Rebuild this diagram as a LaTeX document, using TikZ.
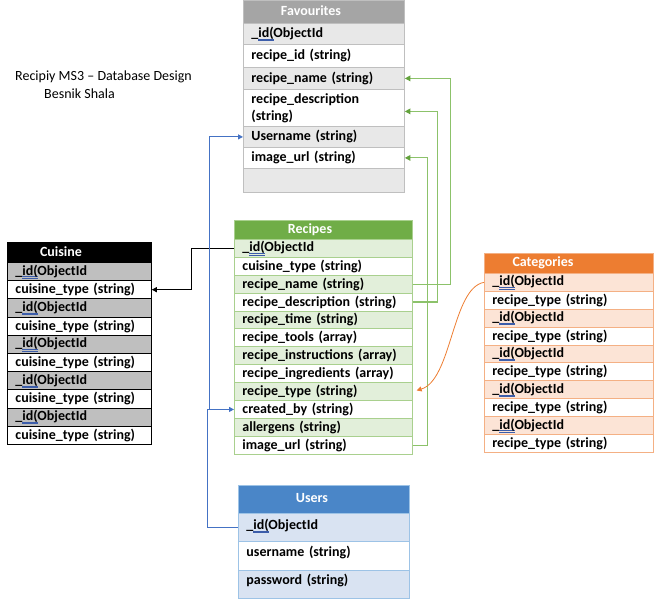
\documentclass[tikz,border=0pt]{standalone}
\usepackage{fontspec}
\setmainfont{Carlito}
\usetikzlibrary{arrows.meta}

\definecolor{favhead}{HTML}{A5A5A5}
\definecolor{favrow}{HTML}{E8E8E8}
\definecolor{favline}{HTML}{BFBFBF}
\definecolor{cuirow}{HTML}{BFBFBF}
\definecolor{rechead}{HTML}{70AD47}
\definecolor{recrow}{HTML}{E2EFDA}
\definecolor{recline}{HTML}{A9D08E}
\definecolor{cathead}{HTML}{ED7D31}
\definecolor{catrow}{HTML}{FCE4D6}
\definecolor{catline}{HTML}{F4B084}
\definecolor{usrhead}{HTML}{4A86C8}
\definecolor{usrrow}{HTML}{D9E3F2}
\definecolor{usrline}{HTML}{9DC3E6}
\definecolor{uline}{HTML}{3C5DAA}
\definecolor{linkgreen}{HTML}{8CC26A}
\definecolor{tipgreen}{HTML}{63A23C}
\definecolor{linkblue}{HTML}{4472C4}
\definecolor{linkorange}{HTML}{ED7D31}

% "_id(ObjectId" with the double underline under "id("
\newlength\oidw
\newcommand\oid{\_\settowidth{\oidw}{id(}%
  \rlap{\textcolor{uline}{\rule[-1.8pt]{\oidw}{0.5pt}}}%
  \rlap{\textcolor{uline}{\rule[-3.2pt]{\oidw}{0.5pt}}}id(ObjectId}
% lift a row's text inside its cell without changing the cell
\newcommand\lift[2]{\raisebox{#1}[\height][\depth]{#2}}

\begin{document}
\begin{tikzpicture}[x=1pt,y=-1pt,
  txt/.style={font=\bfseries\fontsize{14}{17}\selectfont},
  box/.style={anchor=north west, inner sep=0pt, line width=0.8pt},
  htext/.style={txt, text=white, inner sep=0pt},
  cell/.style={txt, anchor=north west, inner xsep=8pt, inner ysep=0pt, align=left, line width=0.8pt},
  favc/.style={cell, draw=favline, text width=145pt},
  cuic/.style={cell, draw=black, text width=128pt, minimum height=18.2pt},
  recc/.style={cell, draw=recline, text width=162pt, minimum height=17.9pt},
  catc/.style={cell, draw=catline, text width=153pt, minimum height=17.9pt},
  usrc/.style={cell, draw=usrline, text width=155pt, minimum height=28.3pt},
  link/.style={line width=1pt, -{Triangle[length=5pt,width=5pt]}},
  glink/.style={line width=1.2pt, draw=linkgreen, -{Triangle[length=5.5pt,width=5.5pt,color=tipgreen]}},
]
\useasboundingbox (0,0) rectangle (661,601);

% ---- title
\node[anchor=west, inner sep=0pt, font=\fontsize{14}{17}\selectfont] (title) at (15,77) {Recipiy MS3 – Database Design};
\node[anchor=west, inner sep=0pt, font=\fontsize{14}{17}\selectfont] (author) at (44,94) {Besnik Shala};

% ---- Favourites
\node[box, fill=favhead, draw=favline, minimum width=161pt, minimum height=23pt] (f-head) at (243,0) {};
\node[htext] (f-title) at (311,11) {Favourites};
\node[favc, fill=favrow, minimum height=21pt] (f-id)   at (243,23)  {\oid};
\node[favc, fill=white,  minimum height=23pt] (f-rid)  at (243,44)  {recipe\_id (string)};
\node[favc, fill=favrow, minimum height=22pt] (f-name) at (243,67)  {recipe\_name (string)};
\node[favc, fill=white,  minimum height=37pt] (f-desc) at (243,89)  {recipe\_description\\(string)};
\node[favc, fill=favrow, minimum height=21pt] (f-user) at (243,126) {Username (string)};
\node[favc, fill=white,  minimum height=21pt] (f-img)  at (243,147) {image\_url (string)};
\node[favc, fill=favrow, minimum height=24pt] (f-end)  at (243,168) {};

% ---- Cuisine
\node[box, fill=black, draw=black, minimum width=144pt, minimum height=20pt] (c-head) at (7,242) {};
\node[htext] (c-title) at (61,252) {Cuisine};
\foreach \i in {0,...,4}{
  \node[cuic, fill=cuirow] (c-id\i) at (7,{262+36.4*\i}) {\oid};
  \node[cuic, fill=white]  (c-t\i)  at (7,{280.2+36.4*\i}) {cuisine\_type (string)};
}

% ---- Recipes
\node[box, fill=rechead, draw=recline, minimum width=178pt, minimum height=19pt] (r-head) at (234,220) {};
\node[htext] (r-title) at (310,229.5) {Recipes};
\node[recc, fill=recrow] (r-id)    at (234,239)   {\oid};
\node[recc, fill=white]  (r-cui)   at (234,256.9) {cuisine\_type (string)};
\node[recc, fill=recrow] (r-name)  at (234,274.8) {recipe\_name (string)};
\node[recc, fill=white]  (r-desc)  at (234,292.7) {recipe\_description (string)};
\node[recc, fill=recrow] (r-time)  at (234,310.6) {recipe\_time (string)};
\node[recc, fill=white]  (r-tools) at (234,328.5) {recipe\_tools (array)};
\node[recc, fill=recrow] (r-ins)   at (234,346.4) {recipe\_instructions (array)};
\node[recc, fill=white]  (r-ing)   at (234,364.3) {recipe\_ingredients (array)};
\node[recc, fill=recrow] (r-type)  at (234,382.2) {recipe\_type (string)};
\node[recc, fill=white]  (r-by)    at (234,400.1) {created\_by (string)};
\node[recc, fill=recrow] (r-all)   at (234,418.0) {allergens (string)};
\node[recc, fill=white]  (r-img)   at (234,435.9) {image\_url (string)};

% ---- Categories
\node[box, fill=cathead, draw=catline, minimum width=169pt, minimum height=20pt] (k-head) at (484,253) {};
\node[htext] (k-title) at (543,263) {Categories};
\foreach \i in {0,...,4}{
  \node[catc, fill=catrow] (k-id\i) at (484,{273+35.8*\i}) {\oid};
  \node[catc, fill=white]  (k-t\i)  at (484,{290.9+35.8*\i}) {recipe\_type (string)};
}

% ---- Users
\node[box, fill=usrhead, draw=usrline, minimum width=171pt, minimum height=28pt] (u-head) at (238,485) {};
\node[htext] (u-title) at (312,498) {Users};
\node[usrc, fill=usrrow] (u-id)   at (238,513)   {\lift{1.5pt}{\oid}};
\node[usrc, fill=white]  (u-name) at (238,541.3) {\lift{3pt}{username (string)}};
\node[usrc, fill=usrrow] (u-pass) at (238,569.6) {\lift{4pt}{password (string)}};

% ---- relations
\draw[link, black] (r-id.west) -- ++(-43,0) |- (c-t0.east);

\draw[glink] (r-name.east) -- ++(38,0) |- (f-name.east);
\draw[glink] (r-desc.east) -- ++(25,0) |- ([yshift=-3.5pt]f-desc.east);
\draw[glink] (r-img.east)  -- ++(15,0) |- (f-img.east);

\draw[link, linkblue] (u-id.west) -- ++(-31,0) coordinate (ujoin) |- (r-by.west);
\draw[link, linkblue] (ujoin |- r-by.west) ++(2,0) coordinate (ujoin2) |- (f-user.west);

\draw[link, linkorange, line width=0.8pt, shorten >=4pt]
  (k-id0.west) .. controls (452,288) and (452,380) .. (r-type.east);
\end{tikzpicture}
\end{document}
